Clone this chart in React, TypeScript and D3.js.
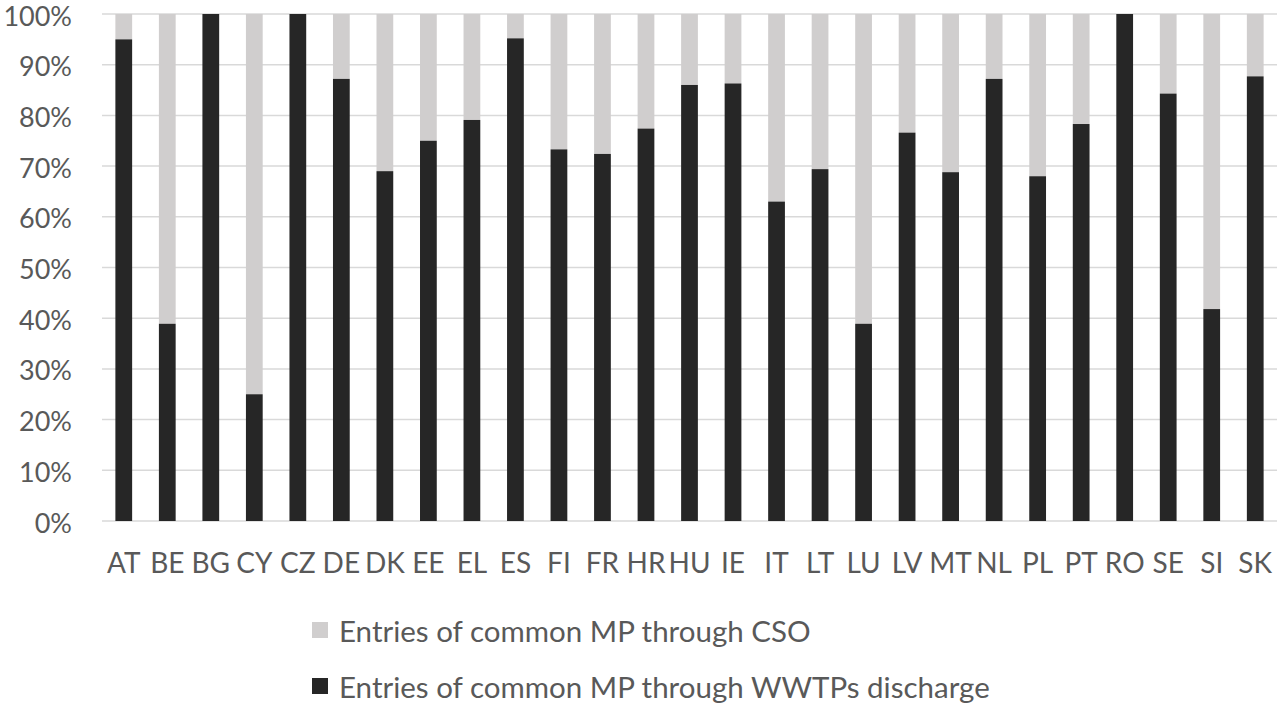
import React from "react";
import * as d3 from "d3";

const categories = ["AT","BE","BG","CY","CZ","DE","DK","EE","EL","ES","FI","FR","HR","HU","IE","IT","LT","LU","LV","MT","NL","PL","PT","RO","SE","SI","SK"];
const wwtpShare = [95.0,38.9,100,25.0,100,87.2,69.0,75.0,79.1,95.2,73.3,72.4,77.4,86.0,86.3,63.0,69.4,38.9,76.6,68.8,87.2,68.0,78.3,100,84.3,41.8,87.7];
const yTicks = [0,10,20,30,40,50,60,70,80,90,100];
const seriesNames = ["Entries of common MP through CSO", "Entries of common MP through WWTPs discharge"];
const seriesColors = ["#d0cece", "#262626"];

const W = 1280, H = 704;
const FONT = "Lato, 'Open Sans', sans-serif";

export default function App() {
  const x = d3.scaleBand<string>().domain(categories).range([102, 1277]).padding(0);
  const y = d3.scaleLinear().domain([0, 100]).range([521, 14]);
  const bw = x.bandwidth() * 0.385;
  const textColor = "#595959";
  return (
    <svg width={W} height={H} style={{ position: "absolute", left: 0, top: 0, background: "#fff" }}>
      {yTicks.map((t) => (
        <g key={t}>
          <line x1={102} x2={1277} y1={y(t)} y2={y(t)} stroke="#d9d9d9" strokeWidth={1.5} />
          <text x={72} y={y(t) + 1} textAnchor="end" dominantBaseline="central" fontFamily={FONT} fontSize={27} fill={textColor}>{t}%</text>
        </g>
      ))}
      {categories.map((c, i) => {
        const cx = (x(c) as number) + x.bandwidth() / 2;
        const v = wwtpShare[i];
        return (
          <g key={c}>
            <rect x={cx - bw / 2} y={y(100)} width={bw} height={y(v) - y(100)} fill={seriesColors[0]} />
            <rect x={cx - bw / 2} y={y(v)} width={bw} height={y(0) - y(v)} fill={seriesColors[1]} />
            <text x={cx} y={562} textAnchor="middle" dominantBaseline="central" fontFamily={FONT} fontSize={28} fill={textColor}>{c}</text>
          </g>
        );
      })}
      {seriesNames.map((s, i) => {
        const cy = i === 0 ? 630 : 686;
        return (
          <g key={s}>
            <rect x={312} y={cy - 8} width={16} height={16} fill={seriesColors[i]} />
            <text x={339} y={cy} dominantBaseline="central" fontFamily={FONT} fontSize={29.5} fill={textColor}>{s}</text>
          </g>
        );
      })}
    </svg>
  );
}
